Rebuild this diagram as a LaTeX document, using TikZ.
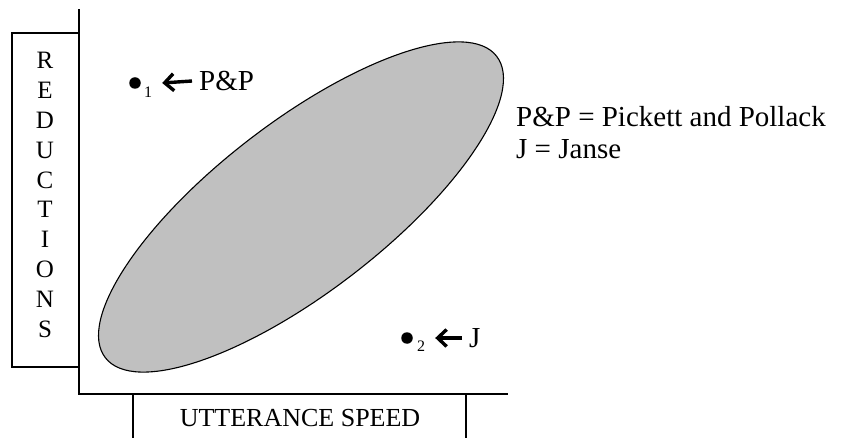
\documentclass[tikz,border=0pt]{standalone}
\usepackage{fontspec}
\setmainfont{Liberation Serif}
\usetikzlibrary{arrows.meta}
\definecolor{blobgray}{RGB}{192,192,192}
\tikzset{
  axisline/.style={line width=1.4pt, line cap=rect},
  txt/.style={inner sep=0pt, font=\fontsize{29}{34}\selectfont},
  sub/.style={inner sep=0pt, font=\fontsize{16}{18}\selectfont},
  dotmark/.style={circle, fill=black, inner sep=0pt, minimum size=11.5pt},
  fatarrow/.style={line width=3.4pt, -{Straight Barb[length=9pt, width=17pt, line width=3.4pt]}}
}
\begin{document}
\begin{tikzpicture}[x=1pt,y=-1pt]
\useasboundingbox (0,0) rectangle (856,438);
% ellipse
\coordinate (c) at (301,207);
\draw[fill=blobgray, line width=1.1pt, rotate around={37.6:(c)}] (c) ellipse [x radius=247pt, y radius=85pt];
% axes
\coordinate (ytop) at (79,10);
\coordinate (orig) at (79,394);
\coordinate (xend) at (507,394);
\draw[axisline] (ytop) -- (orig) -- (xend);
% y label box
\draw[axisline] (79,33) -- (12,33) -- (12,367) -- (79,367);
\node[txt, align=center, font=\fontsize{25}{29.8}\selectfont] (ylab) at (45,195) {R\\E\\D\\U\\C\\T\\I\\O\\N\\S};
% x label box
\coordinate (bl) at (133,394);
\coordinate (bl2) at (133,438);
\coordinate (br) at (466,394);
\coordinate (br2) at (466,438);
\draw[axisline] (bl) -- (bl2);
\draw[axisline] (br) -- (br2);
\node[txt, font=\fontsize{26}{30}\selectfont] (xlab) at (300,418) {UTTERANCE SPEED};
% point 1
\node[dotmark] (d1) at (135,83) {};
\node[sub] (s1) at (148,92) {1};
\node[txt, anchor=west] (pp) at (199,81) {P\&P};
\draw[fatarrow] ([xshift=-7pt]pp.west) -- ([xshift=10pt]s1.east |- d1);
% point 2
\node[dotmark] (d2) at (407,338) {};
\node[sub] (s2) at (421,346) {2};
\node[txt, anchor=west] (jj) at (469,338) {J};
\draw[fatarrow] ([xshift=-7pt]jj.west) -- ([xshift=10pt]s2.east |- d2);
% legend
\node[txt, anchor=west] (leg1) at (516,117) {P\&P = Pickett and Pollack};
\node[txt, anchor=west] (leg2) at (516,149) {J = Janse};
\end{tikzpicture}
\end{document}
